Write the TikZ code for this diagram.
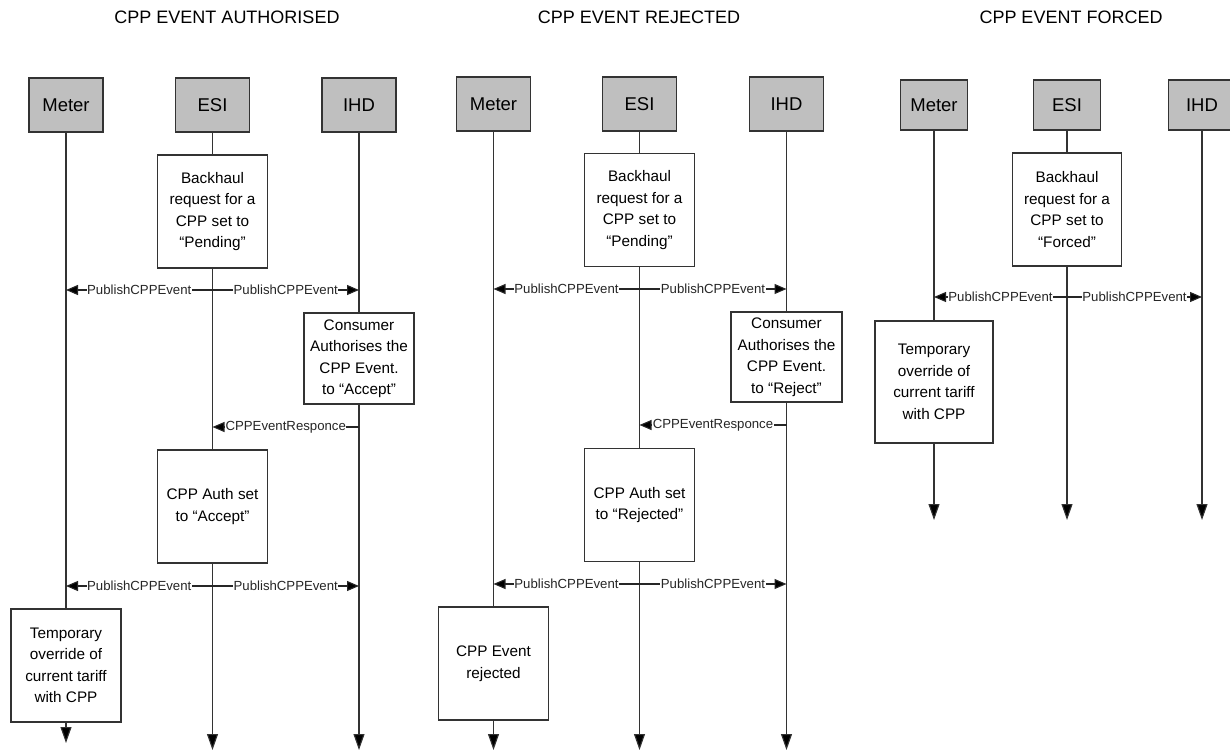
\documentclass[tikz,border=0pt]{standalone}
\usepackage{fontspec}
\setmainfont{Liberation Sans}
\usetikzlibrary{arrows.meta}

\begin{document}
\begin{tikzpicture}[x=1pt, y=-1pt,
    actor/.style={draw=black!80, line width=1.1pt, fill=black!25, minimum width=74pt, minimum height=54pt, inner sep=0pt, font=\fontsize{18.5}{20}\selectfont},
    smallactor/.style={actor, minimum width=67pt, minimum height=50pt},
    task/.style={draw=black!80, line width=1.1pt, fill=white, minimum width=110pt, minimum height=113pt, inner sep=0pt, align=center, font=\fontsize{15.3}{21.5}\selectfont},
    title/.style={font=\fontsize{18}{20}\selectfont},
    life/.style={black!80, line width=1.1pt},
    lifeend/.style={life, -{Triangle[length=16pt,width=11pt,fill=black]}},
    msg/.style={black!85, line width=1.1pt, -{Triangle[length=12pt,width=10pt,fill=black]}},
    lbl/.style={fill=white, inner sep=0.5pt, font=\fontsize{13.2}{15}\selectfont}]

    \clip (0,0) rectangle (1230,751);

    \node[title] (tauth) at (227,17) {CPP EVENT AUTHORISED};
    \node[title] (trej) at (639,17) {CPP EVENT REJECTED};
    \node[title] (tforce) at (1071,17) {CPP EVENT FORCED};

    \node[actor] (m1) at (66,105) {Meter};
    \node[actor] (e1) at (212.5,105) {ESI};
    \node[actor] (i1) at (359,105) {IHD};
    \node[task] (back1) at (212.5,211.5) {Backhaul\\request for a\\CPP set to\\“Pending”};
    \node[task, minimum height=91pt] (cons1) at (359,358.5) {Consumer\\Authorises the\\CPP Event.\\to “Accept”};
    \node[task] (auth1) at (212.5,506.5) {CPP Auth set\\to “Accept”};
    \node[task] (temp1) at (66,665.5) {Temporary\\override of\\current tariff\\with CPP};
    \coordinate (m1a) at (66,290);
    \coordinate (e1a) at (212.5,290);
    \coordinate (i1a) at (359,290);
    \coordinate (e1b) at (212.5,427);
    \coordinate (i1b) at (359,427);
    \coordinate (m1c) at (66,586);
    \coordinate (e1c) at (212.5,586);
    \coordinate (i1c) at (359,586);
    \coordinate (m1end) at (66,743);
    \coordinate (e1end) at (212.5,750);
    \coordinate (i1end) at (359,750);

    \draw[life] (m1) -- (temp1);
    \draw[lifeend] (temp1) -- (m1end);
    \draw[life] (e1) -- (back1);
    \draw[life] (back1) -- (auth1);
    \draw[lifeend] (auth1) -- (e1end);
    \draw[life] (i1) -- (cons1);
    \draw[lifeend] (cons1) -- (i1end);
    \draw[msg] (e1a) -- node[lbl] {PublishCPPEvent} (m1a);
    \draw[msg] (e1a) -- node[lbl] {PublishCPPEvent} (i1a);
    \draw[msg] (i1b) -- node[lbl] {CPPEventResponce} (e1b);
    \draw[msg] (e1c) -- node[lbl] {PublishCPPEvent} (m1c);
    \draw[msg] (e1c) -- node[lbl] {PublishCPPEvent} (i1c);

    \node[actor] (m2) at (493.5,104) {Meter};
    \node[actor] (e2) at (639.5,104) {ESI};
    \node[actor] (i2) at (786.5,104) {IHD};
    \node[task] (back2) at (639.5,210) {Backhaul\\request for a\\CPP set to\\“Pending”};
    \node[task, minimum width=111pt, minimum height=90pt] (cons2) at (786.5,357) {Consumer\\Authorises the\\CPP Event.\\to “Reject”};
    \node[task] (auth2) at (639.5,505) {CPP Auth set\\to “Rejected”};
    \node[task] (rej2) at (493.5,663.5) {CPP Event\\rejected};
    \coordinate (m2a) at (493.5,289);
    \coordinate (e2a) at (639.5,289);
    \coordinate (i2a) at (786.5,289);
    \coordinate (e2b) at (639.5,425);
    \coordinate (i2b) at (786.5,425);
    \coordinate (m2c) at (493.5,584);
    \coordinate (e2c) at (639.5,584);
    \coordinate (i2c) at (786.5,584);
    \coordinate (m2end) at (493.5,750);
    \coordinate (e2end) at (639.5,750);
    \coordinate (i2end) at (786.5,750);

    \draw[life] (m2) -- (rej2);
    \draw[lifeend] (rej2) -- (m2end);
    \draw[life] (e2) -- (back2);
    \draw[life] (back2) -- (auth2);
    \draw[lifeend] (auth2) -- (e2end);
    \draw[life] (i2) -- (cons2);
    \draw[lifeend] (cons2) -- (i2end);
    \draw[msg] (e2a) -- node[lbl] {PublishCPPEvent} (m2a);
    \draw[msg] (e2a) -- node[lbl] {PublishCPPEvent} (i2a);
    \draw[msg] (i2b) -- node[lbl] {CPPEventResponce} (e2b);
    \draw[msg] (e2c) -- node[lbl] {PublishCPPEvent} (m2c);
    \draw[msg] (e2c) -- node[lbl] {PublishCPPEvent} (i2c);

    \node[smallactor] (m3) at (934,105) {Meter};
    \node[smallactor] (e3) at (1067,105) {ESI};
    \node[smallactor] (i3) at (1202,105) {IHD};
    \node[task, minimum width=109pt] (back3) at (1067,209.5) {Backhaul\\request for a\\CPP set to\\“Forced”};
    \node[task, minimum width=118pt, minimum height=122pt] (temp3) at (934,382) {Temporary\\override of\\current tariff\\with CPP};
    \coordinate (m3a) at (934,297);
    \coordinate (e3a) at (1067,297);
    \coordinate (i3a) at (1202,297);
    \coordinate (m3end) at (934,520);
    \coordinate (e3end) at (1067,520);
    \coordinate (i3end) at (1202,520);

    \draw[life] (m3) -- (temp3);
    \draw[lifeend] (temp3) -- (m3end);
    \draw[life] (e3) -- (back3);
    \draw[lifeend] (back3) -- (e3end);
    \draw[lifeend] (i3) -- (i3end);
    \draw[msg] (e3a) -- node[lbl] {PublishCPPEvent} (m3a);
    \draw[msg] (e3a) -- node[lbl] {PublishCPPEvent} (i3a);
\end{tikzpicture}
\end{document}
